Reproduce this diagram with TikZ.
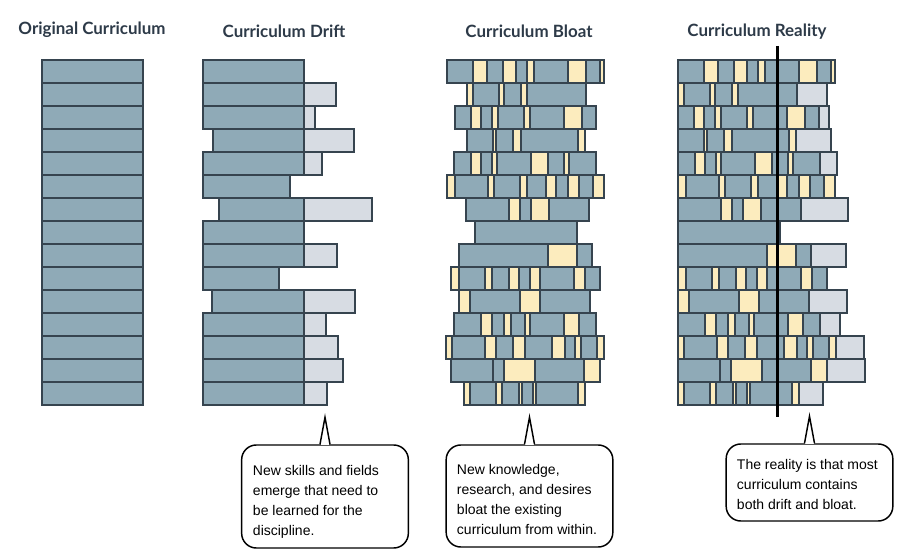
\documentclass[tikz,border=0pt]{standalone}
\usepackage{fontspec}
\setmainfont{Liberation Sans}
\newfontfamily\titlefont{Lato}
\usepackage{xcolor}
\usetikzlibrary{positioning,calc}

\definecolor{blu}{HTML}{8FAAB7}
\definecolor{yel}{HTML}{FCECBE}
\definecolor{gry}{HTML}{D7DCE3}
\definecolor{brickline}{HTML}{36444F}
\definecolor{headcol}{HTML}{2D3A48}

\begin{document}
\begin{tikzpicture}[
    x=0.75pt, y=-0.75pt,
    brick/.style={draw=brickline, line width=1.2pt},
    heading/.style={font=\titlefont\bfseries\fontsize{12.7}{15}\selectfont, text=headcol, inner sep=0pt, anchor=base},
    bubble/.style={draw, line width=1.1pt, rounded corners=11pt, fill=white, minimum width=125pt},
    note/.style={font=\fontsize{10.5}{15}\selectfont, align=left, anchor=base west, inner sep=0pt},
    spike/.style={line width=1.1pt, line join=miter}
]
\useasboundingbox (0,0) rectangle (922,552);

% Headings
\node[heading] (orig) at (92,35) {Original Curriculum};
\node[heading] (drift) at (284,37.5) {Curriculum Drift};
\node[heading] (bloat) at (529,38) {Curriculum Bloat};
\node[heading] (reality) at (757,37) {Curriculum Reality};

% Original curriculum
\foreach \row in {0,...,14}
    \draw[brick, fill=blu] (42,60+23*\row) rectangle (143,83+23*\row);

% Drift: blue block, new material on the right
\foreach \row/\xa/\xb/\xc in {0/203/304/304, 1/203/304/336, 2/203/304/315, 3/213/304/354,
    4/203/304/322, 5/203/290/290, 6/219/304/372, 7/203/304/304, 8/203/304/337, 9/203/279/279,
    10/212/304/355, 11/203/304/326, 12/203/304/338, 13/203/304/343, 14/203/304/327}
{
    \draw[brick, fill=gry] (\xa,60+23*\row) rectangle (\xc,83+23*\row);
    \draw[brick, fill=blu] (\xa,60+23*\row) rectangle (\xb,83+23*\row);
}

% Bloat and reality (same rows, reality left aligned plus drift)
\foreach \row/\start/\rend/\segs in {
    0/447/835/{blu/473,yel/487,blu/503,yel/516,blu/527,yel/534,blu/568,yel/586,blu/600,yel/604},
    1/467/827/{yel/473,blu/499,yel/504,blu/521,yel/527,blu/586},
    2/455/829/{blu/471,yel/481,blu/492,yel/498,blu/524,yel/530,blu/564,yel/582,blu/596},
    3/467/831/{blu/493,yel/496,blu/513,yel/521,blu/578,yel/585},
    4/454/837/{blu/471,yel/481,blu/492,yel/497,blu/531,yel/548,blu/564,yel/569,blu/596},
    5/447/835/{yel/455,blu/488,yel/494,blu/520,yel/527,blu/546,yel/556,blu/568,yel/579,blu/593,yel/604},
    6/466/848/{blu/509,yel/520,blu/531,yel/549,blu/589},
    7/475/779/{blu/577},
    8/459/846/{blu/548,yel/577,blu/592},
    9/451/827/{yel/459,blu/485,yel/492,blu/509,yel/519,blu/530,yel/540,blu/574,yel/585,blu/600},
    10/459/847/{yel/470,blu/520,yel/540,blu/590},
    11/454/840/{blu/481,yel/492,blu/504,yel/511,blu/525,yel/530,blu/564,yel/579,blu/596},
    12/446/864/{yel/452,blu/485,yel/496,blu/513,yel/525,blu/552,yel/565,blu/575,yel/581,blu/597,yel/604},
    13/451/865/{blu/493,blu/504,yel/535,blu/584,yel/600},
    14/464/823/{yel/470,blu/496,yel/502,blu/519,yel/522,blu/533,yel/536,blu/578,yel/585}}
{
    \foreach \col/\xe [remember=\xe as \xp (initially \start)] in \segs
        \draw[brick, fill=\col] (\xp,60+23*\row) rectangle (\xe,83+23*\row);
    \draw[brick, fill=gry] (678,60+23*\row) rectangle (\rend,83+23*\row);
    \begin{scope}[shift={(678-\start,0)}]
        \foreach \col/\xe [remember=\xe as \xp (initially \start)] in \segs
            \draw[brick, fill=\col] (\xp,60+23*\row) rectangle (\xe,83+23*\row);
    \end{scope}
}

% Cut line
\draw[line width=2.6pt] (777.5,46) -- (777.5,417);

% Callouts
\node[bubble, minimum height=77.25pt] (note1) at (325,496.5) {};
\node[bubble, minimum height=76.5pt] (note2) at (529.5,496) {};
\node[bubble, minimum height=57.75pt] (note3) at (809.5,482.5) {};

\foreach \n in {note1,note2,note3}
{
    \fill[white] ($(\n.north)+(-4.2,1.2)$) rectangle ($(\n.north)+(4.2,-1.2)$);
    \draw[spike] ($(\n.north)+(-5,0)$) -- ($(\n.north)+(0,-27)$) -- ($(\n.north)+(5,0)$);
}

% texts (base is the last line)
\node[note] (note1txt) at (252.7,536) {New skills and fields\\emerge that need to\\be learned for the\\discipline.};
\node[note] (note2txt) at (456.7,534) {New knowledge,\\research, and desires\\bloat the existing\\curriculum from within.};
\node[note] (note3txt) at (736.7,509.5) {The reality is that most\\curriculum contains\\both drift and bloat.};

\end{tikzpicture}
\end{document}
